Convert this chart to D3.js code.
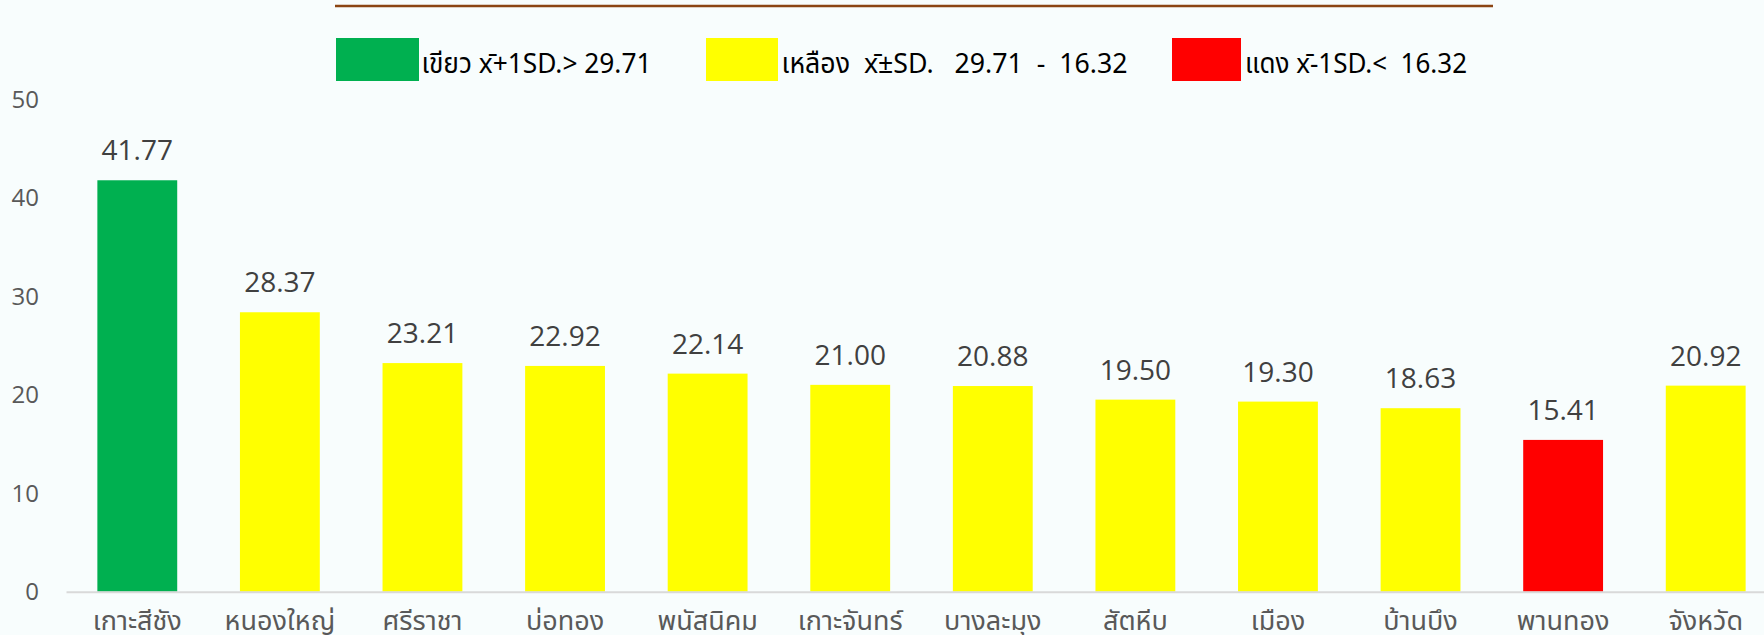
<!DOCTYPE html>
<html>
<head>
<meta charset="utf-8">
<script src="https://cdn.jsdelivr.net/npm/d3@7"></script>
<style>
  body { margin: 0; background: #f8fdfd; }
  svg { display: block; }
</style>
</head>
<body>
<script>
// districts and rates
const districts = ["เกาะสีชัง", "หนองใหญ่", "ศรีราชา", "บ่อทอง", "พนัสนิคม", "เกาะจันทร์",
  "บางละมุง", "สัตหีบ", "เมือง", "บ้านบึง", "พานทอง", "จังหวัด"];
const rates = [41.77, 28.37, 23.21, 22.92, 22.14, 21.00, 20.88, 19.50, 19.30, 18.63, 15.41, 20.92];
const yTicks = [0, 10, 20, 30, 40, 50];

// thresholds mean +/- 1 SD
const upper = 29.71;
const lower = 16.32;
const legendLabels = ["เขียว x̄+1SD.> 29.71", "เหลือง  x̄±SD.   29.71  -  16.32", "แดง x̄-1SD.<  16.32"];
const legendColors = ["#00b050", "#ffff00", "#ff0000"];

const data = districts.map((d, i) => ({ name: d, value: rates[i] }));

const width = 1764;
const height = 635;
const thaiFont = "'Noto Sans Thai', Tahoma, 'Noto Sans', sans-serif";
const numFont = "'Open Sans', Lato, sans-serif";

const svg = d3.select("body")
  .append("svg")
  .attr("width", width)
  .attr("height", height);

svg.append("rect")
  .attr("width", width)
  .attr("height", height)
  .attr("fill", "#f8fdfd");

const x = d3.scaleBand()
  .domain(districts)
  .range([66, 1777])
  .paddingInner(0.44)
  .paddingOuter(0.22);

const y = d3.scaleLinear()
  .domain([0, 50])
  .range([591.7, 99.2]);

function colorFor(v) {
  if (v > upper) return legendColors[0];
  if (v < lower) return legendColors[2];
  return legendColors[1];
}

// title underline (title itself is cut off above the frame)
svg.append("line")
  .attr("x1", 335).attr("x2", 1493)
  .attr("y1", 6).attr("y2", 6)
  .attr("stroke", "#8b4513")
  .attr("stroke-width", 2.5);

// legend
const legendX = [336, 706, 1172];
const legendW = [83, 72, 69];
const legendTextX = [421.5, 781.5, 1245];
const legendTextW = [230, 346, 222];
legendLabels.forEach((lab, i) => {
  svg.append("rect")
    .attr("x", legendX[i])
    .attr("y", 38)
    .attr("width", legendW[i])
    .attr("height", 43)
    .attr("fill", legendColors[i]);
  svg.append("text")
    .attr("x", legendTextX[i])
    .attr("y", 73)
    .attr("font-family", thaiFont)
    .attr("font-size", 28)
    .attr("fill", "#000")
    .attr("textLength", legendTextW[i])
    .attr("lengthAdjust", "spacingAndGlyphs")
    .style("white-space", "pre")
    .text(lab);
});

// y tick labels
svg.append("g")
  .selectAll("text")
  .data(yTicks)
  .enter()
  .append("text")
  .attr("x", 39)
  .attr("y", d => y(d))
  .attr("dy", "0.35em")
  .attr("text-anchor", "end")
  .attr("font-family", numFont)
  .attr("font-size", 24)
  .attr("fill", "#595959")
  .text(d => d);

// bars
svg.selectAll(".bar")
  .data(data)
  .enter()
  .append("rect")
  .attr("class", "bar")
  .attr("x", d => x(d.name))
  .attr("y", d => y(d.value))
  .attr("width", x.bandwidth())
  .attr("height", d => y(0) - y(d.value))
  .attr("fill", d => colorFor(d.value));

// value labels
svg.selectAll(".val")
  .data(data)
  .enter()
  .append("text")
  .attr("class", "val")
  .attr("x", d => x(d.name) + x.bandwidth() / 2)
  .attr("y", d => y(d.value) - 20)
  .attr("text-anchor", "middle")
  .attr("font-family", numFont)
  .attr("font-size", 28)
  .attr("fill", "#404040")
  .text(d => d.value.toFixed(2));

// x axis
const xAxis = svg.append("g")
  .attr("transform", `translate(0, ${y(0)})`)
  .call(d3.axisBottom(x).tickSize(0).tickSizeOuter(0));

xAxis.select(".domain")
  .attr("stroke", "#d9d9d9")
  .attr("stroke-width", 2);

xAxis.selectAll(".tick text")
  .attr("y", 38)
  .attr("dy", null)
  .attr("font-family", thaiFont)
  .attr("font-size", 27)
  .attr("fill", "#595959");
</script>
</body>
</html>
